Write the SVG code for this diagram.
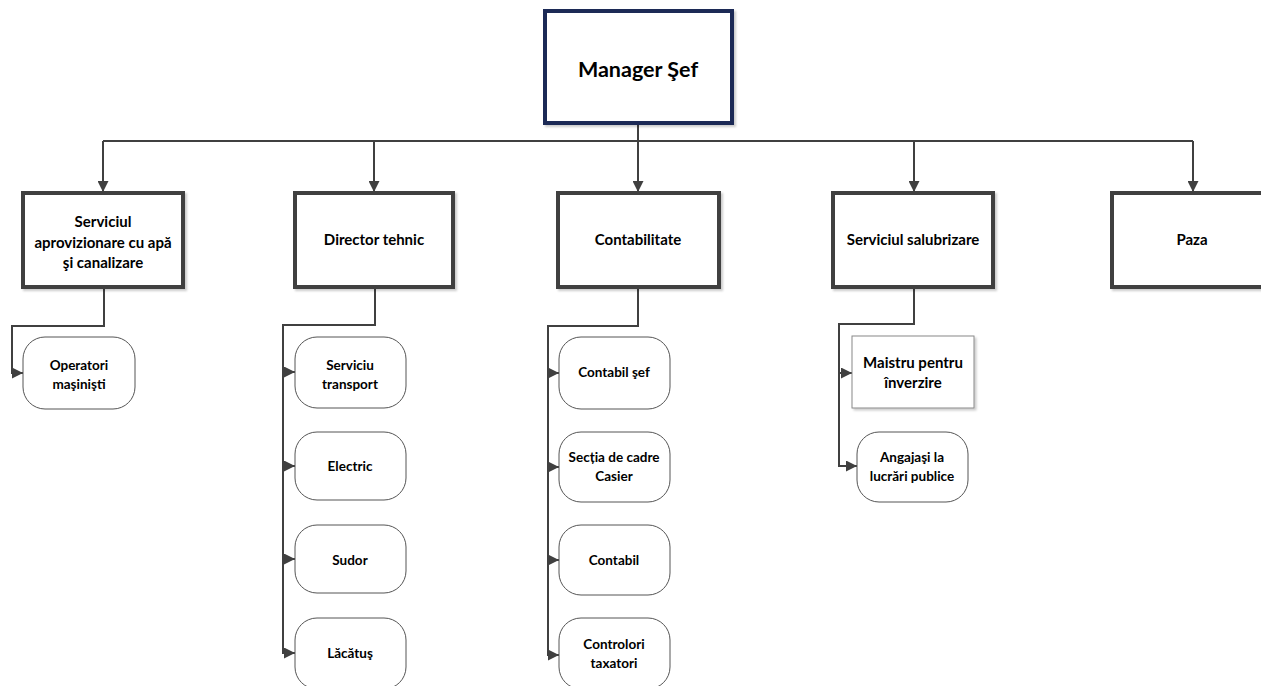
<svg xmlns="http://www.w3.org/2000/svg" width="1261" height="686" viewBox="0 0 1261 686">
  <defs>
    <marker id="arrow" viewBox="0 0 10 10" refX="10" refY="5" markerWidth="12" markerHeight="11" markerUnits="userSpaceOnUse" orient="auto">
      <path d="M0,0 L10,5 L0,10 z" fill="#404040"/>
    </marker>
    <filter id="shadow" x="-10%" y="-10%" width="125%" height="125%">
      <feDropShadow dx="2" dy="2" stdDeviation="1.2" flood-color="#000" flood-opacity="0.2"/>
    </filter>
  </defs>
  <style>
    .unit { fill: #fff; stroke: #404040; stroke-width: 4; filter: url(#shadow); }
    .top { fill: #fff; stroke: #1f2b57; stroke-width: 4; filter: url(#shadow); }
    .sub { fill: #fff; stroke: #555; stroke-width: 1; }
    .plain { fill: #fff; stroke: #888; stroke-width: 1; filter: url(#shadow); }
    .wire { fill: none; stroke: #404040; stroke-width: 2; }
    text { font-family: Lato, "Liberation Sans", sans-serif; font-weight: bold; fill: #000; text-anchor: middle; }
    .t1 { font-size: 21.5px; }
    .t2 { font-size: 15px; }
    .t3 { font-size: 13.5px; }
  </style>
  <rect width="1261" height="686" fill="#fff"/>

  <!-- connectors -->
  <g id="connectors">
    <path class="wire" d="M638,123 V141 M103,141 H1193"/>
    <path class="wire" d="M103,141 V192" marker-end="url(#arrow)"/>
    <path class="wire" d="M374,141 V192" marker-end="url(#arrow)"/>
    <path class="wire" d="M638,141 V192" marker-end="url(#arrow)"/>
    <path class="wire" d="M914,141 V192" marker-end="url(#arrow)"/>
    <path class="wire" d="M1193,141 V192" marker-end="url(#arrow)"/>

    <path class="wire" d="M104,287 V326 H12 V373 H23" marker-end="url(#arrow)"/>

    <path class="wire" d="M375,287 V325 H283 V654"/>
    <path class="wire" d="M283,372 H295" marker-end="url(#arrow)"/>
    <path class="wire" d="M283,466 H295" marker-end="url(#arrow)"/>
    <path class="wire" d="M283,559 H295" marker-end="url(#arrow)"/>
    <path class="wire" d="M283,653 H295" marker-end="url(#arrow)"/>

    <path class="wire" d="M638,287 V326 H548 V656"/>
    <path class="wire" d="M548,373 H559" marker-end="url(#arrow)"/>
    <path class="wire" d="M548,467 H559" marker-end="url(#arrow)"/>
    <path class="wire" d="M548,560 H559" marker-end="url(#arrow)"/>
    <path class="wire" d="M548,655 H559" marker-end="url(#arrow)"/>

    <path class="wire" d="M914,287 V324 H839 V466 H857" marker-end="url(#arrow)"/>
    <path class="wire" d="M839,373 H852" marker-end="url(#arrow)"/>
  </g>

  <g id="manager">
    <rect class="top" x="545" y="11" width="187" height="112"/>
    <text class="t1" x="638" y="77">Manager Şef</text>
  </g>

  <g id="apa">
    <rect class="unit" x="23" y="193" width="160" height="94"/>
    <text class="t2" x="103" y="227">Serviciul</text>
    <text class="t2" x="103" y="248">aprovizionare cu apă</text>
    <text class="t2" x="103" y="268">şi canalizare</text>
  </g>
  <g id="operatori">
    <rect class="sub" x="23" y="337" width="112" height="72" rx="22"/>
    <text class="t3" x="79" y="370">Operatori</text>
    <text class="t3" x="79" y="389">maşinişti</text>
  </g>

  <g id="director">
    <rect class="unit" x="295" y="193" width="158" height="94"/>
    <text class="t2" x="374" y="245">Director tehnic</text>
  </g>
  <g id="transport">
    <rect class="sub" x="295" y="337" width="111" height="71" rx="22"/>
    <text class="t3" x="350" y="370">Serviciu</text>
    <text class="t3" x="350" y="389">transport</text>
  </g>
  <g id="electric">
    <rect class="sub" x="295" y="432" width="111" height="68" rx="22"/>
    <text class="t3" x="350" y="471">Electric</text>
  </g>
  <g id="sudor">
    <rect class="sub" x="295" y="525" width="111" height="68" rx="22"/>
    <text class="t3" x="350" y="565">Sudor</text>
  </g>
  <g id="lacatus">
    <rect class="sub" x="295" y="618" width="111" height="71" rx="22"/>
    <text class="t3" x="350" y="658">Lăcătuş</text>
  </g>

  <g id="contabilitate">
    <rect class="unit" x="558" y="193" width="161" height="94"/>
    <text class="t2" x="638" y="245">Contabilitate</text>
  </g>
  <g id="contabil-sef">
    <rect class="sub" x="559" y="337" width="111" height="72" rx="22"/>
    <text class="t3" x="614" y="377">Contabil şef</text>
  </g>
  <g id="cadre">
    <rect class="sub" x="559" y="432" width="111" height="70" rx="22"/>
    <text class="t3" x="614" y="462">Secția de cadre</text>
    <text class="t3" x="614" y="481">Casier</text>
  </g>
  <g id="contabil">
    <rect class="sub" x="559" y="525" width="111" height="70" rx="22"/>
    <text class="t3" x="614" y="565">Contabil</text>
  </g>
  <g id="controlori">
    <rect class="sub" x="559" y="618" width="111" height="71" rx="22"/>
    <text class="t3" x="614" y="649">Controlori</text>
    <text class="t3" x="614" y="668">taxatori</text>
  </g>

  <g id="salubrizare">
    <rect class="unit" x="833" y="193" width="160" height="94"/>
    <text class="t2" x="913" y="245">Serviciul salubrizare</text>
  </g>
  <g id="maistru">
    <rect class="plain" x="852" y="336" width="122" height="72"/>
    <text class="t2" x="913" y="368">Maistru pentru</text>
    <text class="t2" x="913" y="388">înverzire</text>
  </g>
  <g id="angajati">
    <rect class="sub" x="857" y="432" width="111" height="70" rx="22"/>
    <text class="t3" x="912" y="462">Angajaşi la</text>
    <text class="t3" x="912" y="481">lucrări publice</text>
  </g>

  <g id="paza">
    <rect class="unit" x="1112" y="193" width="160" height="94"/>
    <text class="t2" x="1192" y="245">Paza</text>
  </g>
</svg>
